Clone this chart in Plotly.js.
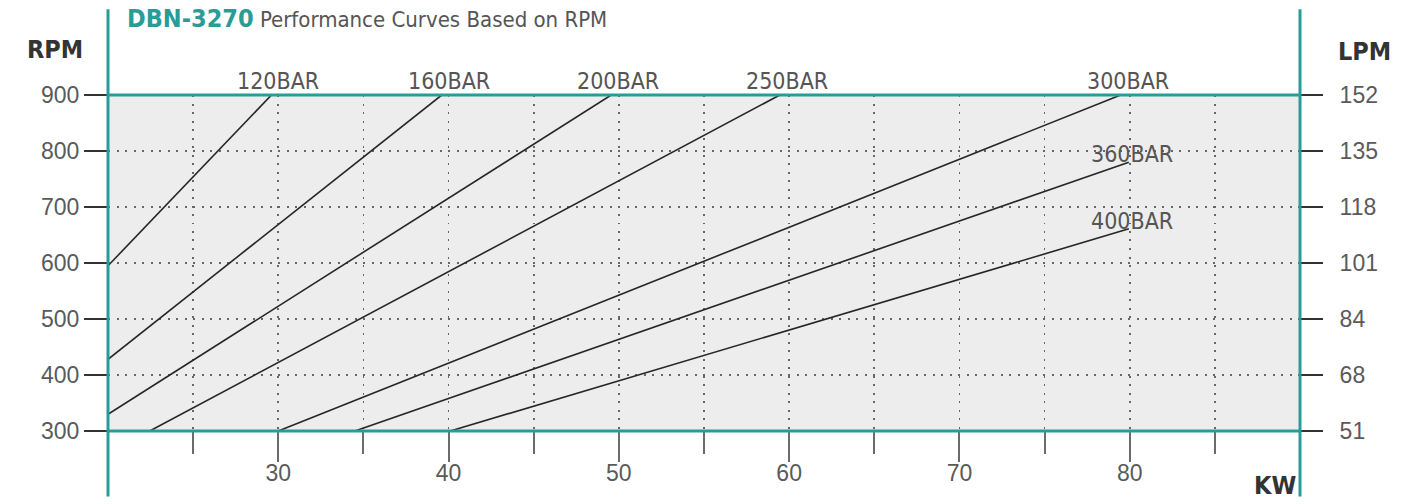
<!DOCTYPE html>
<html>
<head>
<meta charset="utf-8">
<script src="https://cdn.plot.ly/plotly-3.0.1.min.js"></script>
<style>
  html, body { margin: 0; padding: 0; background: #ffffff; }
  #chart { width: 1419px; height: 504px; }
</style>
</head>
<body>
<div id="chart"></div>
<script>
// ---- data ----
const seriesNames = ['120BAR', '160BAR', '200BAR', '250BAR', '300BAR', '360BAR', '400BAR'];
const kw120 = [20, 29.6],    rpm120 = [595, 900];
const kw160 = [20, 39.6],    rpm160 = [428, 900];
const kw200 = [20, 49.55],   rpm200 = [330, 900];
const kw250 = [22.45, 59.45], rpm250 = [300, 900];
const kw300 = [30.0, 79.47], rpm300 = [300, 900];
const kw360 = [34.5, 79.95], rpm360 = [300, 780];
const kw400 = [40.1, 79.95], rpm400 = [300, 661];

const rpmTicks = [300, 400, 500, 600, 700, 800, 900];
const lpmLabels = ['51', '68', '84', '101', '118', '135', '152'];
const kwMajorTicks = [30, 40, 50, 60, 70, 80];
const kwMinorTicks = [25, 35, 45, 55, 65, 75, 85];
const kwRange = [20, 90];
const rpmRange = [300, 900];

const modelName = 'DBN-3270';
const chartTitle = 'Performance Curves Based on RPM';

// ---- styling ----
const TEAL = '#2a9c97';
const NARROW = '"Liberation Sans Narrow", "DejaVu Sans Condensed", "Liberation Sans", sans-serif';
const SANS = '"Liberation Sans", Arial, sans-serif';

const kwSeries = [kw120, kw160, kw200, kw250, kw300, kw360, kw400];
const rpmSeries = [rpm120, rpm160, rpm200, rpm250, rpm300, rpm360, rpm400];

const traces = seriesNames.map((name, i) => ({
  type: 'scatter', mode: 'lines', name: name,
  x: kwSeries[i], y: rpmSeries[i],
  line: { color: '#262626', width: 1.6 },
  hoverinfo: 'skip', showlegend: false, cliponaxis: false
}));
// a carrier trace for the right (LPM) axis
traces.push({ type: 'scatter', mode: 'lines', x: [null], y: [null], yaxis: 'y2', showlegend: false, hoverinfo: 'skip' });

const labelAnnotations = seriesNames.map((name, i) => {
  const xs = kwSeries[i], ys = rpmSeries[i];
  return {
    x: xs[xs.length - 1], y: ys[ys.length - 1], xref: 'x', yref: 'y',
    text: name, showarrow: false, xanchor: 'center', yanchor: 'bottom',
    xshift: i >= 5 ? 3 : 7, yshift: i >= 5 ? -7 : -1,
    font: { family: NARROW, size: 23, color: '#555555' }
  };
});

const gridDot = { griddash: '2px,6.5px', gridcolor: '#666666', gridwidth: 1.6 };

const layout = {
  width: 1419, height: 504,
  margin: { l: 108, r: 119, t: 95, b: 73, pad: 0 },
  paper_bgcolor: '#ffffff', plot_bgcolor: '#ededed',
  showlegend: false,
  xaxis: {
    range: kwRange, tickmode: 'array', tickvals: kwMajorTicks,
    ticks: 'outside', ticklen: 30, tickwidth: 2, tickcolor: '#6b6b6b',
    ticklabelstandoff: -9,
    showgrid: true, ...gridDot,
    zeroline: false, showline: false,
    tickfont: { family: SANS, size: 23, color: '#5a5a5a' },
    minor: { tickmode: 'array', tickvals: kwMinorTicks, ticks: 'outside', ticklen: 22,
             tickwidth: 2, tickcolor: '#6b6b6b', showgrid: true, ...gridDot },
    fixedrange: true
  },
  yaxis: {
    range: rpmRange, tickmode: 'array', tickvals: rpmTicks,
    ticks: 'outside', ticklen: 23, tickwidth: 2, tickcolor: '#333333',
    showgrid: true, ...gridDot,
    zeroline: false, showline: false,
    tickfont: { family: SANS, size: 23, color: '#5a5a5a' },
    fixedrange: true
  },
  yaxis2: {
    range: rpmRange, overlaying: 'y', side: 'right', tickmode: 'array',
    tickvals: rpmTicks, ticktext: lpmLabels,
    ticks: 'outside', ticklen: 22, tickwidth: 2, tickcolor: '#333333',
    ticklabelstandoff: 12,
    showgrid: false, zeroline: false, showline: false,
    tickfont: { family: SANS, size: 23, color: '#5a5a5a' },
    fixedrange: true
  },
  shapes: [
    // teal frame: top and bottom across the plot, verticals running past it
    { type: 'line', xref: 'paper', yref: 'paper', x0: 0, x1: 1, y0: 1, y1: 1, line: { color: TEAL, width: 3 } },
    { type: 'line', xref: 'paper', yref: 'paper', x0: 0, x1: 1, y0: 0, y1: 0, line: { color: TEAL, width: 3 } },
    { type: 'line', xref: 'paper', yref: 'paper', x0: 0, x1: 0, y0: -0.195, y1: 1.255, line: { color: TEAL, width: 3 } },
    { type: 'line', xref: 'paper', yref: 'paper', x0: 1, x1: 1, y0: -0.195, y1: 1.255, line: { color: TEAL, width: 3 } }
  ],
  annotations: [
    ...labelAnnotations,
    { xref: 'paper', yref: 'paper', x: 0.0143, y: 1.229, xanchor: 'left', yanchor: 'middle', showarrow: false,
      text: '<b><span style="color:' + TEAL + ';font-size:25px">' + modelName + '</span></b> <span style="color:#555555">' + chartTitle + '</span>',
      font: { family: NARROW, size: 22, color: '#555555' } },
    { xref: 'paper', yref: 'paper', x: -0.0445, y: 1.134, xanchor: 'center', yanchor: 'middle', showarrow: false,
      text: '<b>RPM</b>', font: { family: NARROW, size: 25, color: '#333333' } },
    { xref: 'paper', yref: 'paper', x: 1.0545, y: 1.128, xanchor: 'center', yanchor: 'middle', showarrow: false,
      text: '<b>LPM</b>', font: { family: NARROW, size: 25, color: '#333333' } },
    { xref: 'paper', yref: 'paper', x: 0.979, y: -0.161, xanchor: 'center', yanchor: 'middle', showarrow: false,
      text: '<b>KW</b>', font: { family: NARROW, size: 25, color: '#333333' } }
  ]
};

Plotly.newPlot('chart', traces, layout, { staticPlot: true, displayModeBar: false });
</script>
</body>
</html>
